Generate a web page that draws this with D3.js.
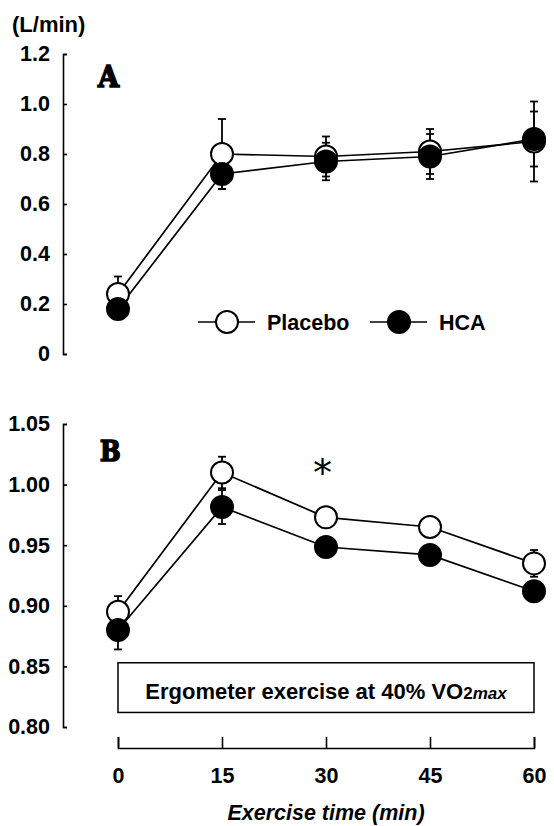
<!DOCTYPE html>
<html>
<head>
<meta charset="utf-8">
<script src="https://cdn.jsdelivr.net/npm/d3@7"></script>
<style>
  body { margin: 0; background: #fff; }
  svg { display: block; font-family: "Liberation Sans", Arial, sans-serif; font-weight: bold; }
</style>
</head>
<body>
<svg id="chart" width="554" height="826"></svg>
<script>
// exercise time points (min)
var times = [0, 15, 30, 45, 60];

// panel A (L/min)
var placeboA = [0.24, 0.80, 0.79, 0.81, 0.85];
var placeboA_sd = [0.07, 0.14, 0.08, 0.09, 0.16];
var hcaA = [0.18, 0.72, 0.77, 0.79, 0.86];
var hcaA_sd = [0.03, 0.06, 0.075, 0.09, 0.11];

// panel B
var placeboB = [0.895, 1.010, 0.973, 0.965, 0.935];
var placeboB_sd = [0.013, 0.013, 0.005, 0.005, 0.011];
var hcaB = [0.880, 0.9815, 0.9485, 0.942, 0.912];
var hcaB_sd = [0.016, 0.014, 0.005, 0.005, 0.005];

var ticksA = [0, 0.2, 0.4, 0.6, 0.8, 1.0, 1.2];
var tickLabelsA = ["0", "0.2", "0.4", "0.6", "0.8", "1.0", "1.2"];
var ticksB = [0.80, 0.85, 0.90, 0.95, 1.00, 1.05];
var tickLabelsB = ["0.80", "0.85", "0.90", "0.95", "1.00", "1.05"];

var svg = d3.select("#chart");

var x = d3.scaleLinear().domain([0, 60]).range([118, 534]);
var yA = d3.scaleLinear().domain([0, 1.2]).range([354, 54]);
var yB = d3.scaleLinear().domain([0.80, 1.05]).range([727, 424]);
var axisX = 63;
var r = 11;

function yAxis(scale, ticks, labels) {
  var g = svg.append("g")
    .attr("transform", "translate(" + axisX + ",0)")
    .call(d3.axisLeft(scale)
      .tickValues(ticks)
      .tickFormat((d, i) => labels[i])
      .tickSize(-4)
      .tickSizeOuter(-4)
      .tickPadding(13));
  g.selectAll("path, line").attr("stroke", "#000").attr("stroke-width", 1.6);
  g.selectAll("text")
    .attr("font-size", 21.5)
    .attr("font-family", "Liberation Sans, Arial, sans-serif")
    .attr("font-weight", "bold")
    .attr("fill", "#000");
}

function series(scale, vals, sds) {
  var pts = times.map((t, i) => [t, vals[i], sds[i]]);
  svg.append("path")
    .datum(pts)
    .attr("fill", "none")
    .attr("stroke", "#000")
    .attr("stroke-width", 1.7)
    .attr("d", d3.line().x(d => x(d[0])).y(d => scale(d[1])));
  var eb = svg.append("g").attr("stroke", "#000").attr("stroke-width", 1.8);
  eb.selectAll("line.v")
    .data(pts)
    .join("line")
      .attr("x1", d => x(d[0])).attr("x2", d => x(d[0]))
      .attr("y1", d => scale(d[1] - d[2])).attr("y2", d => scale(d[1] + d[2]));
  eb.selectAll("line.cap")
    .data(pts.flatMap(d => [[d[0], d[1] + d[2]], [d[0], d[1] - d[2]]]))
    .join("line")
      .attr("x1", d => x(d[0]) - 4).attr("x2", d => x(d[0]) + 4)
      .attr("y1", d => scale(d[1])).attr("y2", d => scale(d[1]));
}

function dots(scale, vals, filled) {
  svg.append("g")
    .selectAll("circle")
    .data(times.map((t, i) => [t, vals[i]]))
    .join("circle")
      .attr("cx", d => x(d[0]))
      .attr("cy", d => scale(d[1]))
      .attr("r", r)
      .attr("fill", filled ? "#000" : "#fff")
      .attr("stroke", "#000")
      .attr("stroke-width", 2);
}

function panelLetter(txt, px, py, size) {
  svg.append("text")
    .attr("x", px).attr("y", py)
    .attr("font-family", "DejaVu Serif Condensed, DejaVu Serif, serif")
    .attr("font-size", size)
    .attr("font-weight", "bold")
    .attr("stroke", "#000").attr("stroke-width", 1.6)
    .text(txt);
}

// ---- panel A
yAxis(yA, ticksA, tickLabelsA);
series(yA, placeboA, placeboA_sd);
series(yA, hcaA, hcaA_sd);
dots(yA, placeboA, false);
dots(yA, hcaA, true);

svg.append("text")
  .attr("x", 12).attr("y", 32)
  .attr("font-size", 22)
  .text("(L/min)");

panelLetter("A", 98, 87, 30);

// legend
var legendY = 322;
[[198, 255, 227, false, "Placebo", 267], [370, 427, 399, true, "HCA", 439]].forEach(l => {
  svg.append("line")
    .attr("x1", l[0]).attr("x2", l[1])
    .attr("y1", legendY).attr("y2", legendY)
    .attr("stroke", "#000").attr("stroke-width", 1.5);
  svg.append("circle")
    .attr("cx", l[2]).attr("cy", legendY).attr("r", r)
    .attr("fill", l[3] ? "#000" : "#fff")
    .attr("stroke", "#000").attr("stroke-width", 2);
  svg.append("text")
    .attr("x", l[5]).attr("y", legendY + 8)
    .attr("font-size", 21.5)
    .text(l[4]);
});

// ---- panel B
yAxis(yB, ticksB, tickLabelsB);
series(yB, placeboB, placeboB_sd);
series(yB, hcaB, hcaB_sd);
dots(yB, placeboB, false);
dots(yB, hcaB, true);

panelLetter("B", 100, 461, 27);

// significance mark
svg.append("text")
  .attr("x", x(29.5))
  .attr("y", 486)
  .attr("text-anchor", "middle")
  .attr("font-family", "DejaVu Sans, sans-serif")
  .attr("font-weight", "normal")
  .attr("font-size", 38)
  .text("*");

// exercise box
svg.append("rect")
  .attr("x", x(0)).attr("width", x(60) - x(0))
  .attr("y", yB(0.853)).attr("height", yB(0.812) - yB(0.853))
  .attr("fill", "#fff").attr("stroke", "#000").attr("stroke-width", 1.5);

var boxText = svg.append("text")
  .attr("x", (x(0) + x(60)) / 2)
  .attr("y", 699)
  .attr("text-anchor", "middle")
  .attr("font-size", 22);
boxText.append("tspan").text("Ergometer exercise at 40% VO");
boxText.append("tspan").attr("font-size", 17).text("2");
boxText.append("tspan").attr("font-size", 17).attr("font-style", "italic").text("max");

// x axis
var gx = svg.append("g")
  .attr("transform", "translate(0,748)")
  .call(d3.axisBottom(x)
    .tickValues(times)
    .tickSize(-11)
    .tickSizeOuter(-11));
gx.selectAll("path, line").attr("stroke", "#000").attr("stroke-width", 1.6);
gx.selectAll("text")
  .attr("y", 35).attr("dy", null)
  .attr("font-size", 21.5)
  .attr("font-family", "Liberation Sans, Arial, sans-serif")
  .attr("font-weight", "bold")
  .attr("fill", "#000");

svg.append("text")
  .attr("x", 326)
  .attr("y", 820)
  .attr("text-anchor", "middle")
  .attr("font-size", 21.5)
  .attr("font-style", "italic")
  .text("Exercise time (min)");
</script>
</body>
</html>
